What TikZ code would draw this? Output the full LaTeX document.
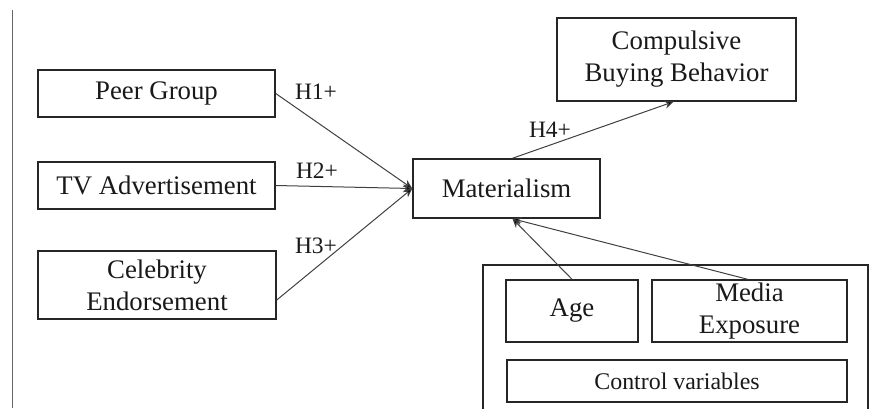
\documentclass[tikz,border=0pt]{standalone}
\usepackage{fontspec}
\setmainfont{Liberation Serif}
\usetikzlibrary{arrows.meta,calc}
\begin{document}
\begin{tikzpicture}[x=1pt,y=-1pt,
  box/.style={draw=black!85,line width=1.5pt,inner sep=0pt,align=center,text=black!90,font=\fontsize{26.8}{32}\selectfont},
  lbl/.style={inner sep=0pt,text=black!90,font=\fontsize{23.5}{28}\selectfont},
  conn/.style={draw=black!75,line width=1pt,-{Stealth[length=9pt,width=8pt,fill=black]}}]
\useasboundingbox (0,0) rectangle (881,408);
\draw[black!60,line width=1pt] (12,10) -- (12,408);
\node[box,minimum width=237pt,minimum height=47pt] (peer) at (156.5,93.5) {Peer Group};
\node[box,minimum width=237pt,minimum height=47pt] (tv) at (156.5,185.5) {TV Advertisement};
\node[box,minimum width=238pt,minimum height=68pt] (celeb) at (157,285) {Celebrity\\Endorsement};
\node[box,minimum width=187pt,minimum height=59pt] (mat) at (506.5,188.5) {Materialism};
\node[box,minimum width=239pt,minimum height=83pt] (comp) at (676.5,59.5) {Compulsive\\Buying Behavior};
\draw[black!85,line width=1.5pt] (483,410) -- (483,265) -- (868,265) -- (868,410);
\node[box,minimum width=132pt,minimum height=62pt] (age) at (572,311) {Age};
\node[box,minimum width=195pt,minimum height=62pt] (media) at (749.5,311) {Media\\Exposure};
\node[box,minimum width=340pt,minimum height=42pt,font=\fontsize{23.9}{28}\selectfont] (ctrl) at (677,381) {Control variables};
\draw[conn] (peer.east) -- (mat.west);
\draw[conn] (tv.east) -- (mat.west);
\draw[conn] ($(celeb.east)+(0,15)$) -- (mat.west);
\draw[conn] ($(mat.north)+(6,0)$) -- ($(comp.south)+(-3,0)$);
\draw[conn] (age.north) -- ($(mat.south)+(6,0)$);
\draw[conn] ($(media.north)+(-2,0)$) -- ($(mat.south)+(6,0)$);
\node[lbl] (h1) at (316,92) {H1+};
\node[lbl] (h2) at (317,171) {H2+};
\node[lbl] (h3) at (316,246) {H3+};
\node[lbl] (h4) at (550,130) {H4+};
\end{tikzpicture}
\end{document}
